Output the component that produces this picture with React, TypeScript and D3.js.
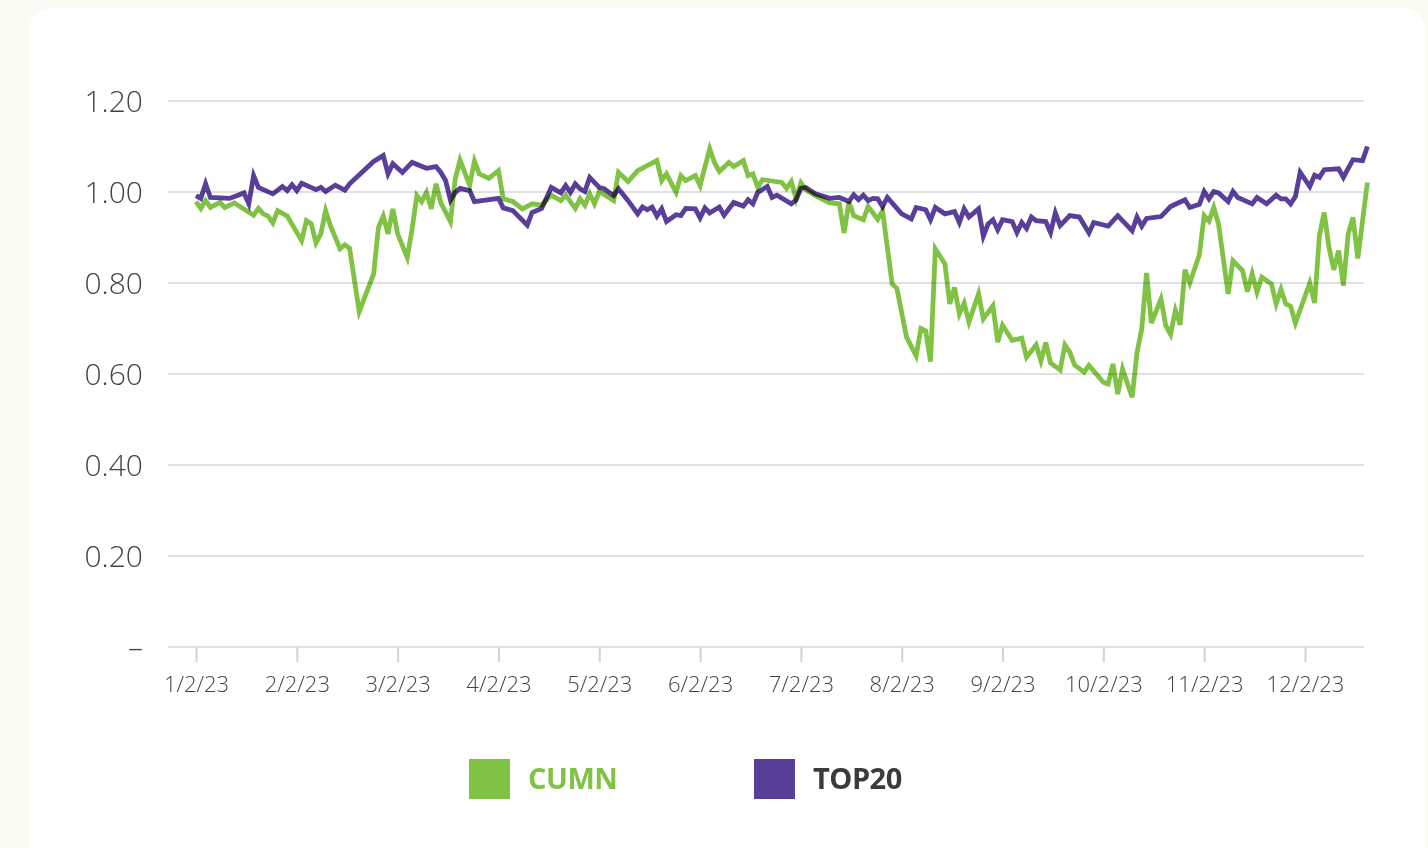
import React, { useEffect, useRef } from "react";
import * as d3 from "d3";

// x positions are trading-day indexes from 1/2/23
const cumnDays = [0, 1, 2, 3, 5, 6, 8, 12, 13, 14, 15, 16, 17, 19, 22, 23, 24, 25, 26, 27, 28, 30, 31, 32, 34, 37, 38, 39, 40, 41, 42, 44, 45, 46, 47, 48, 49, 50, 51, 53, 54, 55, 57, 58, 59, 61, 63, 64, 66, 68, 70, 72, 74, 76, 77, 79, 80, 81, 82, 83, 84, 87, 88, 90, 92, 96, 97, 98, 100, 101, 102, 104, 105, 107, 108, 109, 111, 112, 114, 115, 116, 117, 118, 122, 123, 124, 125, 126, 127, 129, 132, 134, 135, 136, 137, 139, 140, 142, 143, 145, 146, 148, 150, 151, 152, 153, 154, 156, 157, 158, 159, 160, 161, 163, 164, 166, 167, 168, 170, 172, 173, 175, 176, 177, 178, 180, 181, 182, 183, 185, 186, 189, 190, 191, 192, 193, 195, 196, 197, 198, 199, 201, 202, 203, 204, 205, 206, 207, 209, 210, 211, 212, 213, 215, 216, 218, 219, 220, 221, 222, 224, 225, 226, 227, 228, 229, 232, 233, 234, 235, 236, 237, 238, 239, 240, 241, 242, 244];
const cumnValues = [0.979, 0.964, 0.981, 0.966, 0.977, 0.966, 0.976, 0.949, 0.964, 0.952, 0.947, 0.932, 0.959, 0.947, 0.893, 0.937, 0.93, 0.888, 0.908, 0.959, 0.926, 0.875, 0.884, 0.876, 0.737, 0.82, 0.922, 0.947, 0.908, 0.963, 0.908, 0.856, 0.918, 0.992, 0.979, 0.999, 0.963, 1.018, 0.976, 0.935, 1.029, 1.07, 1.015, 1.068, 1.04, 1.03, 1.047, 0.985, 0.979, 0.963, 0.974, 0.971, 0.993, 0.981, 0.993, 0.964, 0.985, 0.971, 0.996, 0.974, 1.001, 0.981, 1.043, 1.023, 1.047, 1.069, 1.025, 1.04, 0.999, 1.036, 1.025, 1.036, 1.014, 1.095, 1.065, 1.045, 1.065, 1.056, 1.069, 1.036, 1.04, 1.01, 1.027, 1.021, 1.008, 1.023, 0.985, 1.02, 1.005, 0.992, 0.976, 0.974, 0.91, 0.978, 0.948, 0.939, 0.968, 0.94, 0.959, 0.798, 0.788, 0.681, 0.64, 0.7, 0.695, 0.627, 0.875, 0.842, 0.754, 0.79, 0.732, 0.756, 0.714, 0.776, 0.721, 0.75, 0.67, 0.707, 0.674, 0.679, 0.637, 0.664, 0.629, 0.669, 0.624, 0.609, 0.664, 0.648, 0.62, 0.604, 0.619, 0.582, 0.578, 0.622, 0.556, 0.611, 0.549, 0.646, 0.699, 0.822, 0.712, 0.765, 0.706, 0.687, 0.74, 0.708, 0.829, 0.8, 0.862, 0.948, 0.936, 0.966, 0.929, 0.776, 0.849, 0.827, 0.781, 0.82, 0.78, 0.813, 0.798, 0.754, 0.786, 0.754, 0.749, 0.712, 0.8, 0.756, 0.904, 0.955, 0.878, 0.829, 0.871, 0.794, 0.908, 0.944, 0.854, 1.021];

const top20Days = [0, 1, 2, 3, 7, 10, 11, 12, 13, 16, 18, 19, 20, 21, 22, 25, 26, 27, 29, 31, 32, 37, 39, 40, 41, 43, 45, 48, 50, 51, 52, 53, 54, 55, 57, 58, 63, 64, 66, 69, 70, 72, 74, 76, 77, 78, 79, 80, 81, 82, 84, 85, 87, 88, 90, 92, 93, 94, 95, 96, 97, 98, 100, 101, 102, 104, 105, 106, 107, 109, 110, 112, 114, 115, 116, 117, 119, 120, 121, 124, 125, 126, 127, 129, 132, 134, 136, 137, 138, 139, 140, 141, 142, 143, 144, 147, 149, 150, 152, 153, 154, 156, 158, 159, 160, 161, 163, 164, 165, 166, 167, 168, 170, 171, 172, 173, 174, 175, 177, 178, 179, 180, 182, 184, 186, 187, 190, 192, 195, 196, 197, 198, 201, 203, 204, 206, 207, 209, 210, 211, 212, 213, 215, 216, 217, 220, 221, 223, 225, 226, 227, 228, 229, 230, 232, 233, 234, 235, 238, 239, 240, 241, 243, 244];
const top20Values = [0.992, 0.986, 1.018, 0.988, 0.986, 0.998, 0.974, 1.036, 1.01, 0.996, 1.012, 1.003, 1.016, 1.003, 1.019, 1.005, 1.01, 1.001, 1.015, 1.004, 1.018, 1.067, 1.08, 1.04, 1.062, 1.043, 1.065, 1.052, 1.056, 1.043, 1.025, 0.982, 0.999, 1.008, 1.003, 0.979, 0.986, 0.965, 0.959, 0.927, 0.955, 0.964, 1.01, 0.998, 1.014, 0.999, 1.018, 1.007, 1.001, 1.032, 1.01, 1.007, 0.992, 1.007, 0.981, 0.952, 0.967, 0.961, 0.967, 0.947, 0.963, 0.935, 0.95, 0.948, 0.964, 0.963, 0.943, 0.965, 0.954, 0.967, 0.949, 0.977, 0.969, 0.983, 0.974, 0.999, 1.012, 0.988, 0.993, 0.974, 0.983, 1.008, 1.01, 0.996, 0.986, 0.988, 0.979, 0.994, 0.983, 0.993, 0.981, 0.986, 0.985, 0.968, 0.988, 0.952, 0.941, 0.966, 0.961, 0.939, 0.966, 0.952, 0.957, 0.933, 0.963, 0.945, 0.963, 0.903, 0.93, 0.939, 0.917, 0.939, 0.935, 0.911, 0.933, 0.92, 0.945, 0.937, 0.935, 0.911, 0.954, 0.926, 0.948, 0.945, 0.91, 0.933, 0.925, 0.948, 0.915, 0.945, 0.925, 0.942, 0.946, 0.968, 0.973, 0.983, 0.966, 0.973, 1.001, 0.985, 1.001, 0.998, 0.979, 1.001, 0.988, 0.974, 0.988, 0.974, 0.993, 0.985, 0.985, 0.974, 0.99, 1.043, 1.012, 1.037, 1.032, 1.049, 1.051, 1.032, 1.052, 1.071, 1.069, 1.1];

const tickDays = [0, 21, 42, 63, 84, 105, 126, 147, 168, 189, 210, 231];
const tickLabels = ["1/2/23", "2/2/23", "3/2/23", "4/2/23", "5/2/23", "6/2/23", "7/2/23", "8/2/23", "9/2/23", "10/2/23", "11/2/23", "12/2/23"];
const yTicks = [0, 0.2, 0.4, 0.6, 0.8, 1.0, 1.2];

const seriesNames = ["CUMN", "TOP20"];
const GREEN = "#80c244";
const PURPLE = "#593f9a";

const App = () => {
    const svgRef = useRef<SVGSVGElement>(null);

    useEffect(() => {
        const width = 1428, height = 848;
        const svg = d3.select(svgRef.current)
            .attr("width", width)
            .attr("height", height);

        svg.selectAll("*").remove();

        svg.append("rect")
            .attr("width", width)
            .attr("height", height)
            .attr("fill", "#f9faf1");

        svg.append("rect")
            .attr("x", 29)
            .attr("y", 8)
            .attr("width", 1396)
            .attr("height", 900)
            .attr("rx", 22)
            .attr("fill", "#ffffff");

        const x = d3.scaleLinear().domain([0, 244]).range([196, 1367.4]);
        const y = d3.scaleLinear().domain([0, 1.2]).range([647, 101]);

        const font = "'Open Sans', sans-serif";

        // grid
        svg.append("g")
            .selectAll("line")
            .data(yTicks)
            .enter()
            .append("line")
            .attr("x1", 168)
            .attr("x2", 1364)
            .attr("y1", d => y(d))
            .attr("y2", d => y(d))
            .attr("stroke", "#d3d9d8")
            .attr("stroke-width", 1.3);

        // y labels
        svg.append("g")
            .selectAll("text")
            .data(yTicks)
            .enter()
            .append("text")
            .attr("x", 143)
            .attr("y", d => y(d))
            .attr("dy", "0.36em")
            .attr("text-anchor", "end")
            .attr("font-family", font)
            .attr("font-weight", 300)
            .attr("font-size", 30)
            .attr("fill", "#444444")
            .text(d => (d === 0 ? "–" : d.toFixed(2)));

        // x axis
        const xAxis = d3.axisBottom(x)
            .tickValues(tickDays)
            .tickSize(15)
            .tickPadding(14)
            .tickFormat((d, i) => tickLabels[i]);

        const gx = svg.append("g")
            .attr("transform", `translate(0, ${y(0)})`)
            .call(xAxis);
        gx.select(".domain").remove();
        gx.selectAll(".tick line").attr("stroke", "#cdd4d3").attr("stroke-width", 2);
        gx.selectAll(".tick text")
            .attr("font-family", font)
            .attr("font-weight", 300)
            .attr("font-size", 22)
            .attr("fill", "#444444");

        const line = d3.line<[number, number]>()
            .x(d => x(d[0]))
            .y(d => y(d[1]));

        const cumn = cumnDays.map((d, i) => [d, cumnValues[i]] as [number, number]);
        const top20 = top20Days.map((d, i) => [d, top20Values[i]] as [number, number]);

        [[cumn, GREEN], [top20, PURPLE]].forEach(([data, color]) => {
            svg.append("path")
                .datum(data as [number, number][])
                .attr("d", line)
                .attr("fill", "none")
                .attr("stroke", color as string)
                .attr("stroke-width", 4.8)
                .style("mix-blend-mode", "multiply");
        });

        // legend
        const legend = svg.append("g");
        const legendX = [469, 754];
        const legendColors = [GREEN, PURPLE];
        const textColors = [GREEN, "#3b3b3b"];
        seriesNames.forEach((name, i) => {
            legend.append("rect")
                .attr("x", legendX[i])
                .attr("y", 759)
                .attr("width", 41)
                .attr("height", 40)
                .attr("fill", legendColors[i]);
            legend.append("text")
                .attr("x", legendX[i] + 59)
                .attr("y", 779)
                .attr("dy", "0.36em")
                .attr("font-family", font)
                .attr("font-weight", 700)
                .attr("font-size", 29)
                .attr("letter-spacing", -0.5)
                .attr("fill", textColors[i])
                .text(name);
        });
    }, []);

    return <svg ref={svgRef} style={{ position: "absolute", left: 0, top: 0, display: "block" }}></svg>;
};

export default App;
